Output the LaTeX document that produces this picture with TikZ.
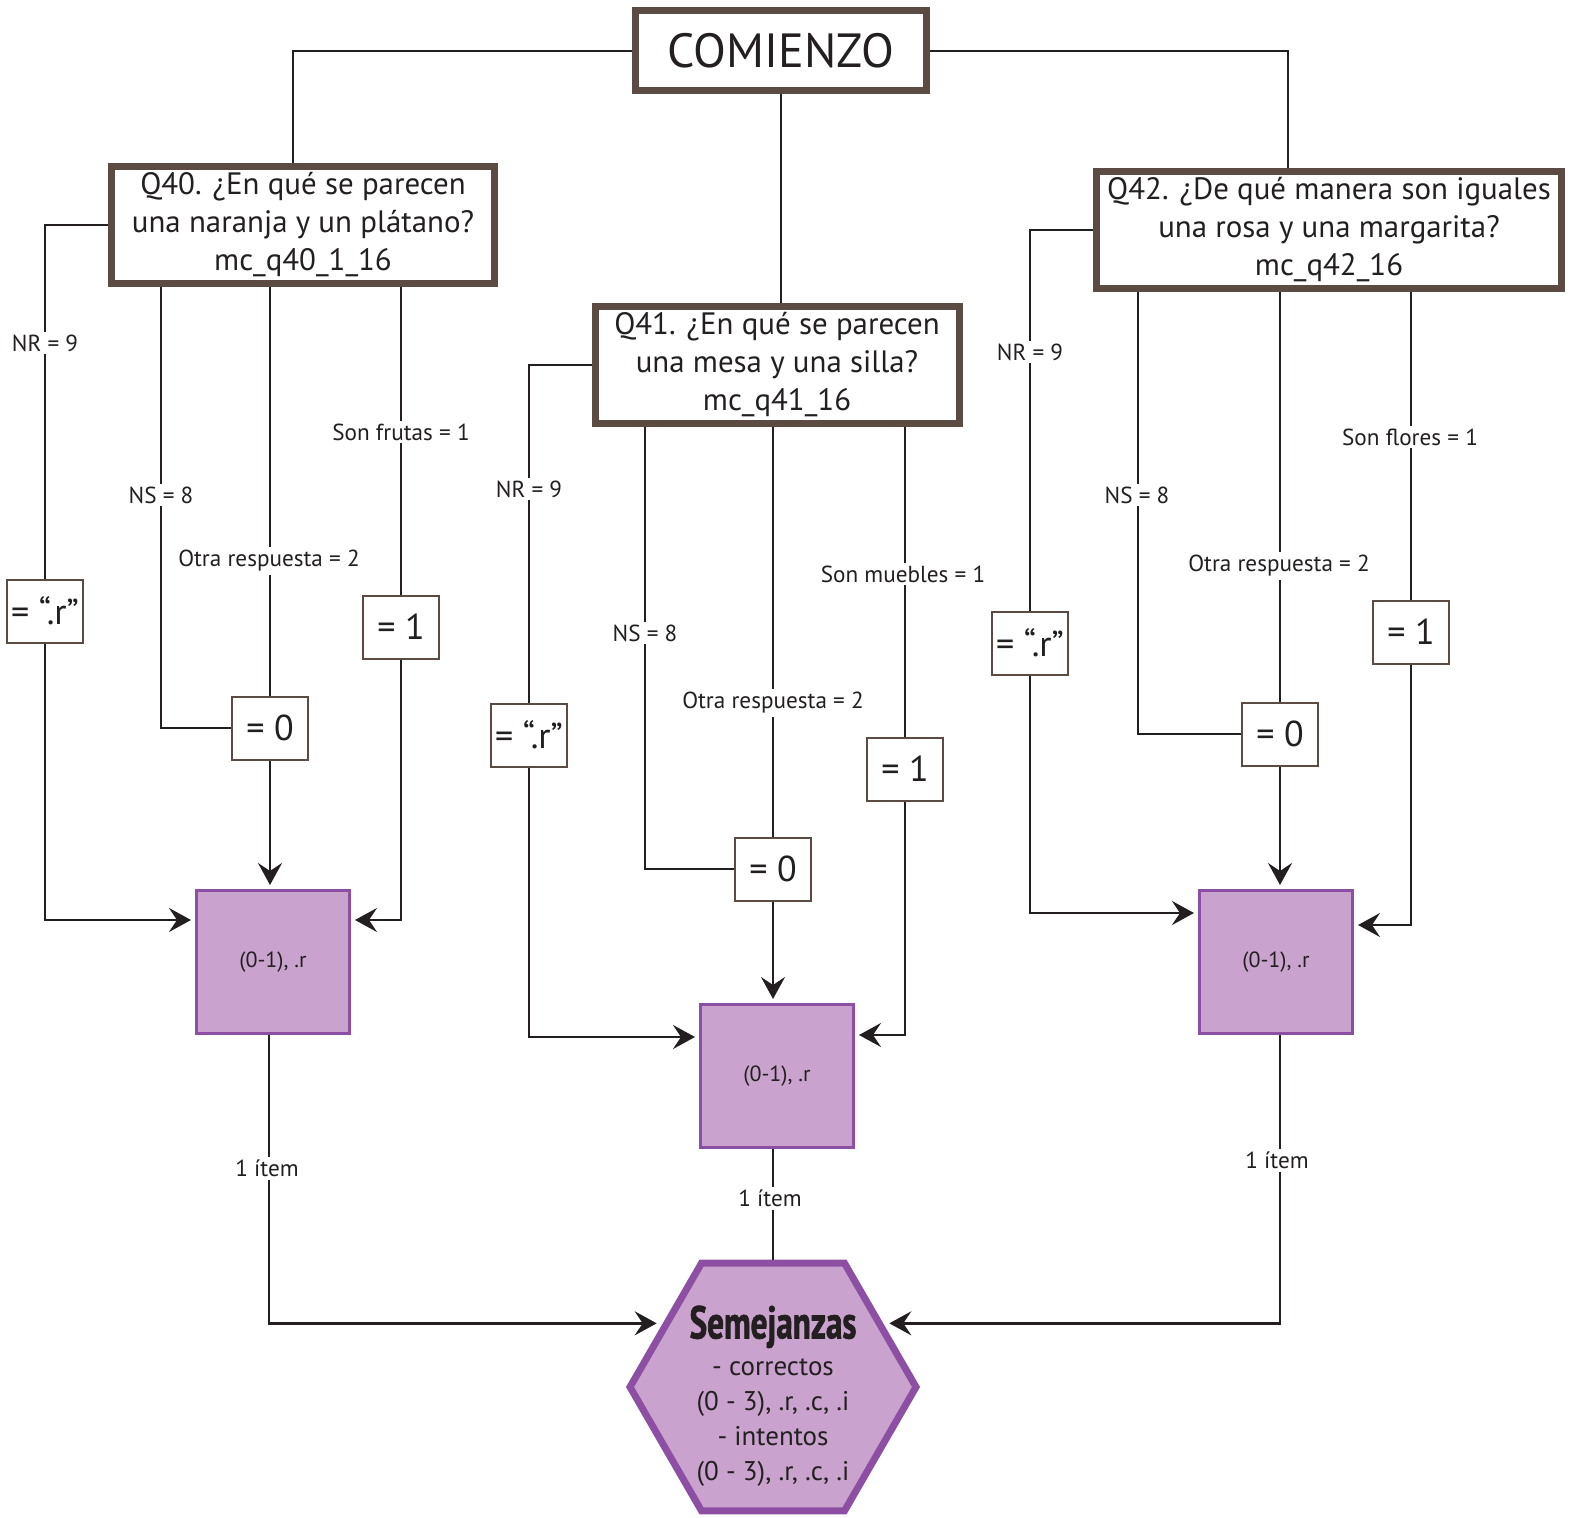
\documentclass[tikz,border=0pt]{standalone}
\usepackage{fontspec}
\setmainfont{PT Sans}
\newfontfamily\semfont[FakeStretch=0.72,FakeBold=1.5]{PT Sans}
\usetikzlibrary{arrows.meta,shapes.geometric,calc}
\definecolor{ink}{HTML}{231F20}
\definecolor{boxbrown}{HTML}{5C4B43}
\definecolor{lilac}{HTML}{C9A3CD}
\definecolor{boxpurple}{HTML}{8C4FA3}

\begin{document}
\begin{tikzpicture}[x=0.5pt,y=-0.5pt,text=ink,
    qbox/.style={draw=boxbrown,line width=3.5pt,fill=white,align=center,inner sep=0pt,
      font=\fontsize{15.45}{19}\selectfont},
    valbox/.style={draw=boxbrown,line width=1pt,fill=white,minimum width=38pt,
      minimum height=31.5pt,inner sep=0pt,font=\fontsize{18}{20}\selectfont},
    scorebox/.style={draw=boxpurple,line width=1.5pt,fill=lilac,minimum width=76.5pt,
      minimum height=71.5pt,inner sep=0pt,font=\fontsize{11}{13}\selectfont},
    lbl/.style={fill=white,inner sep=1.5pt,font=\fontsize{11.6}{13}\selectfont},
    conn/.style={line width=1.2pt,draw=ink},
    arr/.style={conn,-{Stealth[length=11pt,width=12pt,inset=4pt]},shorten >=2pt}]
    \useasboundingbox (0,0) rectangle (1573,1518);

    % start and questions
    \node[qbox,minimum width=145.5pt,minimum height=40pt,font=\fontsize{24}{28}\selectfont]
      (start) at (781,51) {COMIENZO};
    \node[qbox,minimum width=191.5pt,minimum height=58.5pt] (q40) at (303,225)
      {Q40. ¿En qué se parecen\\una naranja y un plátano?\\mc\_q40\_1\_16};
    \node[qbox,minimum width=182pt,minimum height=58.5pt] (q41) at (777,365)
      {Q41. ¿En qué se parecen\\una mesa y una silla?\\mc\_q41\_16};
    \node[qbox,minimum width=232.5pt,minimum height=58.5pt] (q42) at (1329,230)
      {Q42. ¿De qué manera son iguales\\una rosa y una margarita?\\mc\_q42\_16};

    % recoded values
    \node[valbox] (r40) at (45,611)   {= “.r”};
    \node[valbox] (z40) at (270,728)  {= 0};
    \node[valbox] (o40) at (401,627)  {= 1};
    \node[valbox] (r41) at (529,735)  {= “.r”};
    \node[valbox] (z41) at (773,869)  {= 0};
    \node[valbox] (o41) at (905,769)  {= 1};
    \node[valbox] (r42) at (1030,643) {= “.r”};
    \node[valbox] (z42) at (1280,734) {= 0};
    \node[valbox] (o42) at (1411,632) {= 1};

    % scores
    \node[scorebox] (p40) at (273,962)  {(0-1), .r};
    \node[scorebox] (p41) at (777,1076) {(0-1), .r};
    \node[scorebox] (p42) at (1276,962) {(0-1), .r};

    % total
    \node[regular polygon,regular polygon sides=6,minimum size=143pt,inner sep=0pt,
      draw=boxpurple,line width=3.5pt,fill=lilac] (sem) at (773,1387) {};
    \node[align=center,font=\fontsize{13.5}{17.5}\selectfont] (semtxt)
      at ([yshift=-4.5pt]sem.center)
      {{\semfont\bfseries\fontsize{23}{24}\selectfont Semejanzas}\\[1pt]- correctos\\
       (0 - 3), .r, .c, .i\\- intentos\\(0 - 3), .r, .c, .i};

    % from start
    \draw[conn] (start.west) -| ([xshift=-5pt]q40.north);
    \draw[conn] (start.east) -| ([xshift=-20.5pt]q42.north);
    \draw[conn] (start.south) -- (start.south |- q41.north);

    % Q40
    \draw[conn] (q40.west) -| (r40.north);
    \draw[arr]  (r40.south) |- (p40.west |- 0,920);
    \draw[conn] (q40.south -| 161,0) |- (z40.west);
    \draw[conn] (q40.south -| z40.north) -- (z40.north);
    \draw[arr]  (z40.south) -- (z40.south |- p40.north);
    \draw[conn] (q40.south -| o40.north) -- (o40.north);
    \draw[arr]  (o40.south) |- (p40.east |- 0,920);
    \draw[arr]  (p40.south -| 269,0) |- ([xshift=-1pt]sem.150);

    % Q41
    \draw[conn] (q41.west) -| (r41.north);
    \draw[arr]  (r41.south) |- (p41.west |- 0,1037);
    \draw[conn] (q41.south -| 645,0) |- (z41.west);
    \draw[conn] (q41.south -| z41.north) -- (z41.north);
    \draw[arr]  (z41.south) -- (z41.south |- p41.north);
    \draw[conn] (q41.south -| o41.north) -- (o41.north);
    \draw[arr]  (o41.south) |- (p41.east |- 0,1035);
    \draw[conn] (p41.south -| sem.north) -- (sem.north);

    % Q42
    \draw[conn] (q42.west) -| (r42.north);
    \draw[arr]  (r42.south) |- (p42.west |- 0,913);
    \draw[conn] (q42.south -| 1138,0) |- (z42.west);
    \draw[conn] (q42.south -| z42.north) -- (z42.north);
    \draw[arr]  (z42.south) -- (z42.south |- p42.north);
    \draw[conn] (q42.south -| o42.north) -- (o42.north);
    \draw[arr]  (o42.south) |- (p42.east |- 0,925);
    \draw[arr]  (p42.south -| z42.south) |- ([xshift=1pt]sem.30);

    % answer labels
    \node[lbl] at (45,343)    {NR = 9};
    \node[lbl] at (161,495)   {NS = 8};
    \node[lbl] at (269,561)   {Otra respuesta = 2};
    \node[lbl] at (401,432)   {Son frutas = 1};
    \node[lbl] at (267,1168)  {1 ítem};
    \node[lbl] at (529,489)   {NR = 9};
    \node[lbl] at (645,633)   {NS = 8};
    \node[lbl] at (773,703)   {Otra respuesta = 2};
    \node[lbl] at (903,574)   {Son muebles = 1};
    \node[lbl] at (770,1198)  {1 ítem};
    \node[lbl] at (1030,352)  {NR = 9};
    \node[lbl] at (1137,495)  {NS = 8};
    \node[lbl] at (1279,566)  {Otra respuesta = 2};
    \node[lbl] at (1410,437)  {Son flores = 1};
    \node[lbl] at (1277,1160) {1 ítem};
\end{tikzpicture}
\end{document}
